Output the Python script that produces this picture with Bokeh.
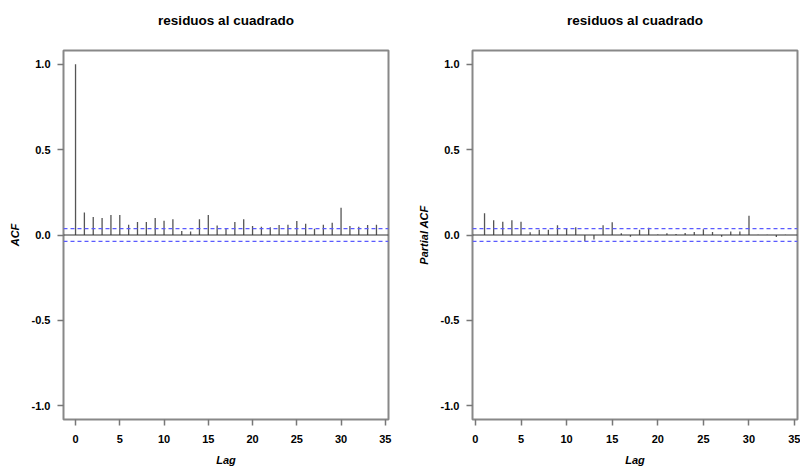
from bokeh.plotting import figure
from bokeh.layouts import row
from bokeh.models import Span, FixedTicker, Range1d, PrintfTickFormatter, Title
from bokeh.embed import file_html
from bokeh.resources import INLINE

# ---- data ----
acf_lags = list(range(0, 35))
acf_vals = [1.0, 0.131, 0.105, 0.099, 0.117, 0.117, 0.060, 0.076, 0.076, 0.099,
            0.084, 0.092, 0.023, 0.021, 0.092, 0.117, 0.055, 0.037, 0.076, 0.092,
            0.053, 0.049, 0.045, 0.058, 0.060, 0.082, 0.066, 0.037, 0.060, 0.072,
            0.160, 0.053, 0.049, 0.058, 0.060]
pacf_lags = list(range(1, 35))
pacf_vals = [0.127, 0.086, 0.078, 0.086, 0.078, 0.016, 0.031, 0.031, 0.057, 0.037,
             0.045, -0.037, -0.027, 0.057, 0.074, 0.010, -0.010, 0.031, 0.043, 0.003,
             0.010, 0.006, 0.012, 0.018, 0.033, 0.018, -0.010, 0.021, 0.021, 0.113,
             0.002, 0.002, -0.012, 0.002]
ci_bound = 0.037
x_ticks = [0, 5, 10, 15, 20, 25, 30, 35]
y_ticks = [-1.0, -0.5, 0.0, 0.5, 1.0]
title_text = "residuos al cuadrado"

FONT = "Liberation Sans"


def make(ylabel, lags, vals, xr, bl, br):
    p = figure(width=400, height=468, x_range=Range1d(*xr), y_range=Range1d(-1.08, 1.08),
               output_backend="svg", toolbar_location=None,
               min_border_left=bl, min_border_right=br, min_border_top=50, min_border_bottom=49)
    p.title = None
    spacer = Title(text=" ", text_font_size="6px", standoff=0)
    p.add_layout(spacer, "above")
    main = Title(text=title_text, align="center", vertical_align="top",
                 text_font=FONT, text_font_size="13.5px", text_font_style="bold",
                 text_color="black", standoff=25)
    p.add_layout(main, "above")

    p.grid.visible = False
    p.outline_line_color = "#888888"
    p.outline_line_width = 2
    p.background_fill_color = "white"
    p.border_fill_color = "white"

    for ax in (p.xaxis[0], p.yaxis[0]):
        ax.axis_line_color = None
        ax.major_tick_line_color = "#777777"
        ax.major_tick_line_width = 1.5
        ax.major_tick_out = 6
        ax.major_tick_in = 0
        ax.minor_tick_line_color = None
        ax.major_label_text_font = FONT
        ax.major_label_text_font_size = "11px"
        ax.major_label_text_font_style = "bold"
        ax.major_label_text_color = "black"
        ax.axis_label_text_font = FONT
        ax.axis_label_text_font_size = "11px"
        ax.axis_label_text_font_style = "bold italic"
        ax.axis_label_text_color = "black"

    p.xaxis.ticker = FixedTicker(ticks=x_ticks)
    p.yaxis.ticker = FixedTicker(ticks=y_ticks)
    p.yaxis.formatter = PrintfTickFormatter(format="%.1f")
    p.xaxis.axis_label = "Lag"
    p.xaxis.major_label_standoff = 9
    p.xaxis.axis_label_standoff = 8
    p.yaxis.axis_label = ylabel
    p.yaxis.major_label_standoff = 7
    p.yaxis.axis_label_standoff = 8

    p.add_layout(Span(location=0, dimension="width", line_color="#333333", line_width=1))
    for b in (ci_bound, -ci_bound):
        p.add_layout(Span(location=b, dimension="width", line_color="#5a5aff",
                          line_width=1.2, line_dash="4 3"))

    p.segment(x0=lags, y0=[0] * len(lags), x1=lags, y1=vals, line_color="#555555", line_width=1.3)
    return p


p1 = make("ACF", acf_lags, acf_vals, (-1.36, 35.36), 63, 12)
p2 = make("Partial ACF", pacf_lags, pacf_vals, (-0.32, 35.32), 72, 3)

layout = row(p1, p2, spacing=0)
open("out.html", "w").write(file_html(layout, INLINE))
